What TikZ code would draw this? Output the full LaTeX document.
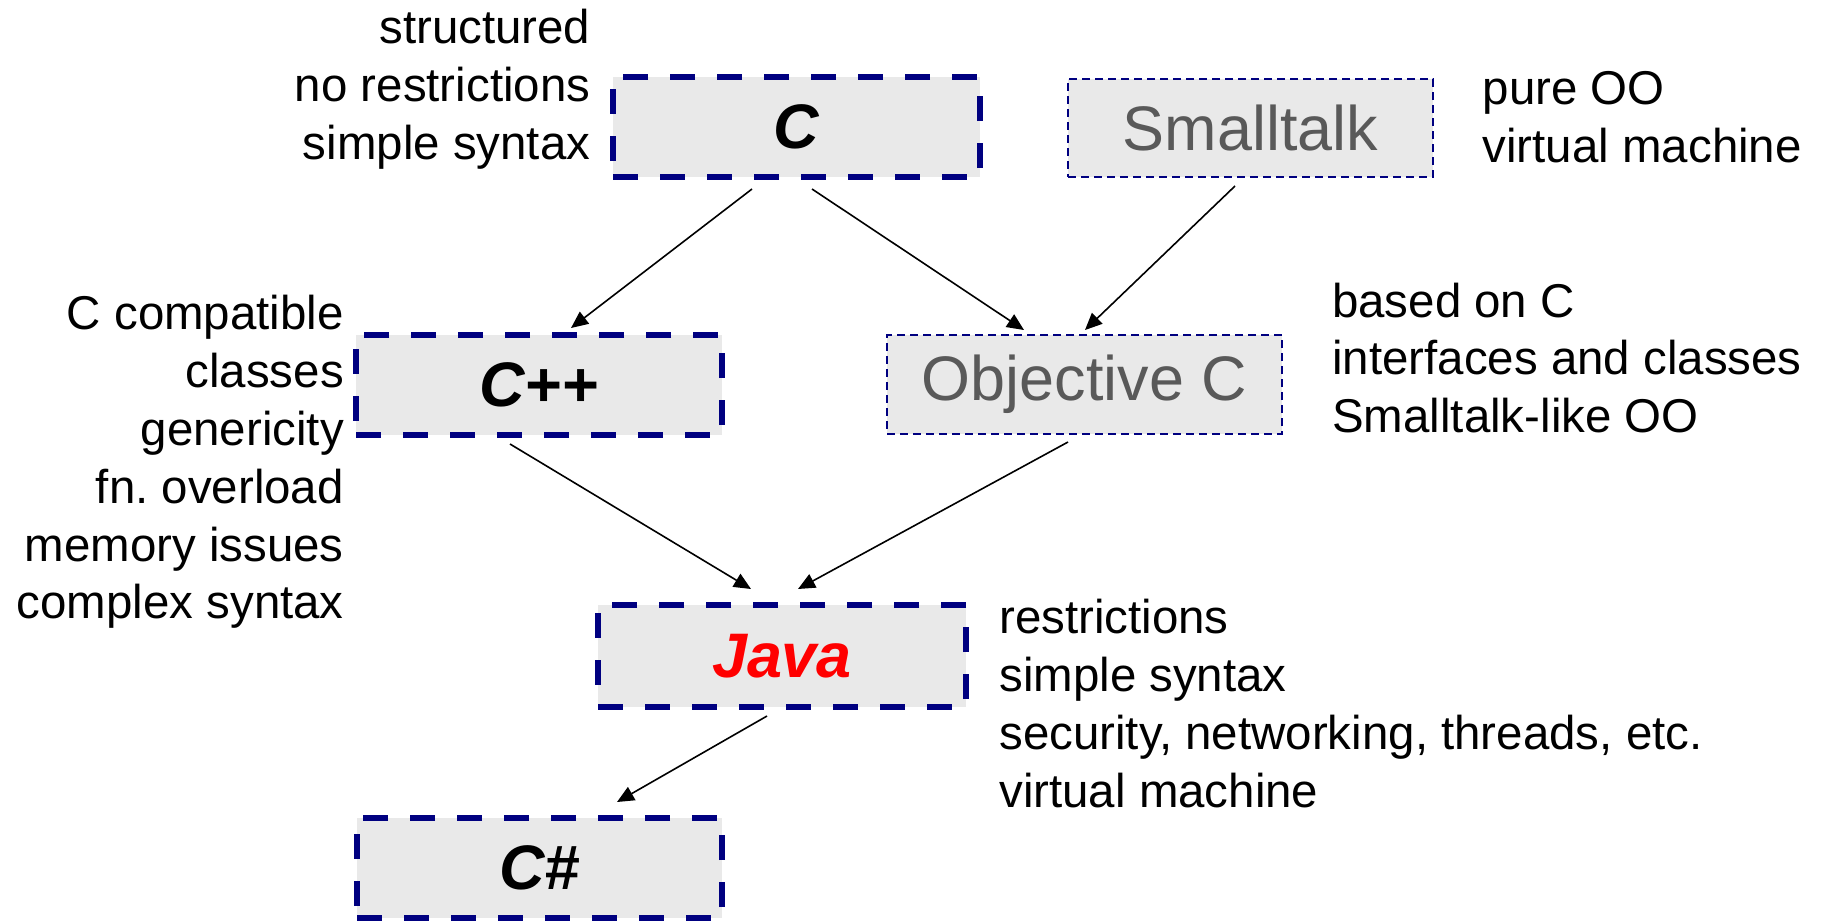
\documentclass[tikz,border=0pt]{standalone}
\usepackage{fontspec}
\setmainfont{Liberation Sans}
\usetikzlibrary{arrows.meta}
\definecolor{boxnavy}{HTML}{000080}
\definecolor{boxfill}{HTML}{E9E9E9}
\definecolor{greytext}{HTML}{595959}
\definecolor{javared}{HTML}{FF0000}
\tikzset{
  langbox/.style={draw=boxnavy, fill=boxfill, line width=0.06cm,
    dash pattern=on 0.25cm off 0.22cm, inner sep=0, anchor=center,
    font=\fontsize{17.9}{20}\selectfont\bfseries\itshape},
  oldbox/.style={draw=boxnavy, fill=boxfill, line width=0.02cm,
    dash pattern=on 0.08cm off 0.05cm, inner sep=0, anchor=center,
    text=greytext, font=\fontsize{17.9}{20}\selectfont},
  notel/.style={inner sep=0, align=left, anchor=west,
    font=\fontsize{13.5}{16.45}\selectfont},
  noter/.style={inner sep=0, align=right, anchor=east,
    font=\fontsize{13.5}{16.45}\selectfont},
  arr/.style={draw=black, line width=0.016cm,
    -{Triangle[length=0.17cm,width=0.15cm]}}
}
\begin{document}
\begin{tikzpicture}
\useasboundingbox (0,0) rectangle (18.25,-9.2);
% boxes
\node[langbox, minimum width=3.67cm, minimum height=1.00cm] (C) at (7.965,-1.27) {C};
\node[oldbox, minimum width=3.65cm, minimum height=0.98cm] (ST) at (12.505,-1.28) {Smalltalk};
\node[langbox, minimum width=3.66cm, minimum height=1.00cm] (Cpp) at (5.39,-3.85) {C++};
\node[oldbox, minimum width=3.95cm, minimum height=0.99cm] (OC) at (10.845,-3.845) {Objective C};
\node[langbox, minimum width=3.68cm, minimum height=1.02cm, text=javared] (J) at (7.82,-6.56) {Java};
\node[langbox, minimum width=3.65cm, minimum height=1.00cm] (Cs) at (5.395,-8.68) {C\#};
% notes
\node[noter] (nC) at (5.91,-0.893) {structured\\no restrictions\\simple syntax};
\node[notel] (nST) at (14.82,-1.17) {pure OO\\virtual machine};
\node[noter] (nCpp) at (3.445,-4.62) {C compatible\\classes\\genericity\\fn.\ overload\\memory issues\\complex syntax};
\node[notel] (nOC) at (13.315,-3.58) {based on C\\interfaces and classes\\Smalltalk-like OO};
\node[notel] (nJ) at (9.986,-7.036) {restrictions\\simple syntax\\security, networking, threads, etc.\\virtual machine};
% arrows
\draw[arr] ([shift={(-0.445,-0.09)}]C.south) -- ([shift={(0.32,0.04)}]Cpp.north);
\draw[arr] ([shift={(0.155,-0.09)}]C.south) -- ([shift={(-0.605,0.04)}]OC.north);
\draw[arr] ([shift={(-0.155,-0.08)}]ST.south) -- ([shift={(0.005,0.04)}]OC.north);
\draw[arr] ([shift={(-0.29,-0.06)}]Cpp.south) -- ([shift={(-0.31,0.13)}]J.north);
\draw[arr] ([shift={(-0.165,-0.07)}]OC.south) -- ([shift={(0.16,0.13)}]J.north);
\draw[arr] ([shift={(-0.15,-0.06)}]J.south) -- ([shift={(0.775,0.13)}]Cs.north);
\end{tikzpicture}
\end{document}
